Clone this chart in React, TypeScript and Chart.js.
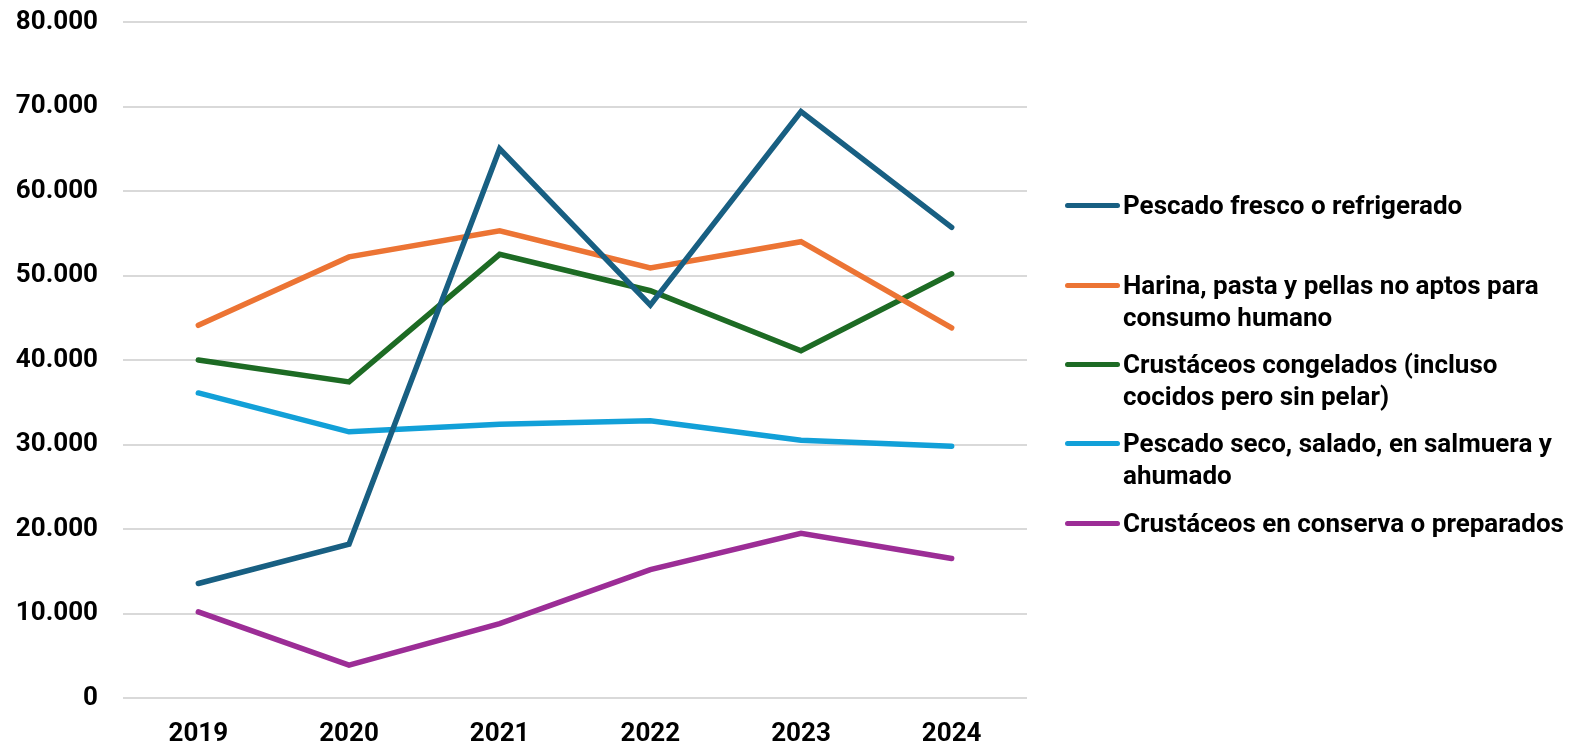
import React, { useEffect, useRef } from "react";
import { Chart, registerables } from "chart.js";

Chart.register(...registerables);

const YEARS = ["2019", "2020", "2021", "2022", "2023", "2024"];

const PESCADO_FRESCO = [13550, 18200, 65000, 46500, 69400, 55700];
const HARINA = [44100, 52200, 55300, 50900, 54000, 43800];
const CRUSTACEOS_CONGELADOS = [40000, 37400, 52500, 48200, 41100, 50200];
const PESCADO_SECO = [36100, 31500, 32400, 32800, 30500, 29800];
const CRUSTACEOS_CONSERVA = [10200, 3900, 8800, 15200, 19500, 16500];

const SERIES_LABELS = [
  "Pescado fresco o refrigerado",
  "Harina, pasta y pellas no aptos para\nconsumo humano",
  "Crustáceos congelados (incluso\ncocidos pero sin pelar)",
  "Pescado seco, salado, en salmuera y\nahumado",
  "Crustáceos en conserva o preparados",
];
const SERIES_VALUES = [
  PESCADO_FRESCO,
  HARINA,
  CRUSTACEOS_CONGELADOS,
  PESCADO_SECO,
  CRUSTACEOS_CONSERVA,
];
const SERIES_COLORS = ["#185f82", "#ec7434", "#1d6b24", "#12a0d8", "#9c2d96"];

const Y_MIN = 0;
const Y_MAX = 80000;
const Y_STEP = 10000;

const FONT_FAMILY = "Roboto, 'Noto Sans', sans-serif";
const LEGEND_TOPS = [205, 285, 364, 443, 523];

function formatThousands(v: number): string {
  return String(Math.round(v)).replace(/\B(?=(\d{3})+(?!\d))/g, ".");
}

export default function App() {
  const canvasRef = useRef<HTMLCanvasElement | null>(null);

  useEffect(() => {
    if (!canvasRef.current) return;
    const chart = new Chart(canvasRef.current, {
      type: "line",
      data: {
        labels: YEARS,
        datasets: SERIES_VALUES.map((vals, i) => ({
          label: SERIES_LABELS[i].replace("\n", " "),
          data: vals,
          borderColor: SERIES_COLORS[i],
          backgroundColor: SERIES_COLORS[i],
          borderWidth: 5.5,
          borderCapStyle: "round" as const,
          borderJoinStyle: "miter" as const,
          pointRadius: 0,
          pointHoverRadius: 0,
          tension: 0,
          fill: false,
        })),
      },
      options: {
        animation: false,
        responsive: false,
        devicePixelRatio: 1,
        layout: { padding: { left: 0, right: 552, top: 22, bottom: 0 } },
        plugins: {
          legend: { display: false },
          tooltip: { enabled: false },
          title: { display: false },
        },
        scales: {
          x: {
            offset: true,
            grid: { display: false, drawTicks: false },
            border: { display: false },
            ticks: {
              color: "#000",
              padding: 21,
              font: { family: FONT_FAMILY, size: 26, weight: "bold" },
              maxRotation: 0,
            },
            afterFit: (scale: any) => {
              scale.height = 46;
            },
          },
          y: {
            min: Y_MIN,
            max: Y_MAX,
            grid: {
              color: "#d9d9d9",
              lineWidth: 2,
              drawTicks: true,
              tickLength: 25,
              tickColor: "rgba(0,0,0,0)",
            },
            border: { display: false },
            ticks: {
              stepSize: Y_STEP,
              color: "#000",
              padding: 0,
              font: { family: FONT_FAMILY, size: 26, weight: "bold" },
              callback: (v: any) => formatThousands(Number(v)),
            },
            afterFit: (scale: any) => {
              scale.width = 123;
            },
          },
        },
      },
    });
    return () => chart.destroy();
  }, []);

  return (
    <div
      style={{
        position: "absolute",
        left: 0,
        top: 0,
        width: 1579,
        height: 744,
        overflow: "hidden",
        background: "#fff",
      }}
    >
      <canvas
        ref={canvasRef}
        width={1579}
        height={744}
        style={{ position: "absolute", left: 0, top: 0, width: 1579, height: 744 }}
      />
      {SERIES_LABELS.map((lab, i) => (
        <div key={i}>
          <div
            style={{
              position: "absolute",
              left: 1065,
              top: LEGEND_TOPS[i] - 2.5,
              width: 55,
              height: 5,
              borderRadius: 3,
              background: SERIES_COLORS[i],
            }}
          />
          <div
            style={{
              position: "absolute",
              left: 1123,
              top: LEGEND_TOPS[i] - 16,
              fontFamily: FONT_FAMILY,
              fontWeight: 700,
              fontSize: 26,
              lineHeight: "32px",
              color: "#000",
              whiteSpace: "pre",
            }}
          >
            {lab}
          </div>
        </div>
      ))}
    </div>
  );
}
